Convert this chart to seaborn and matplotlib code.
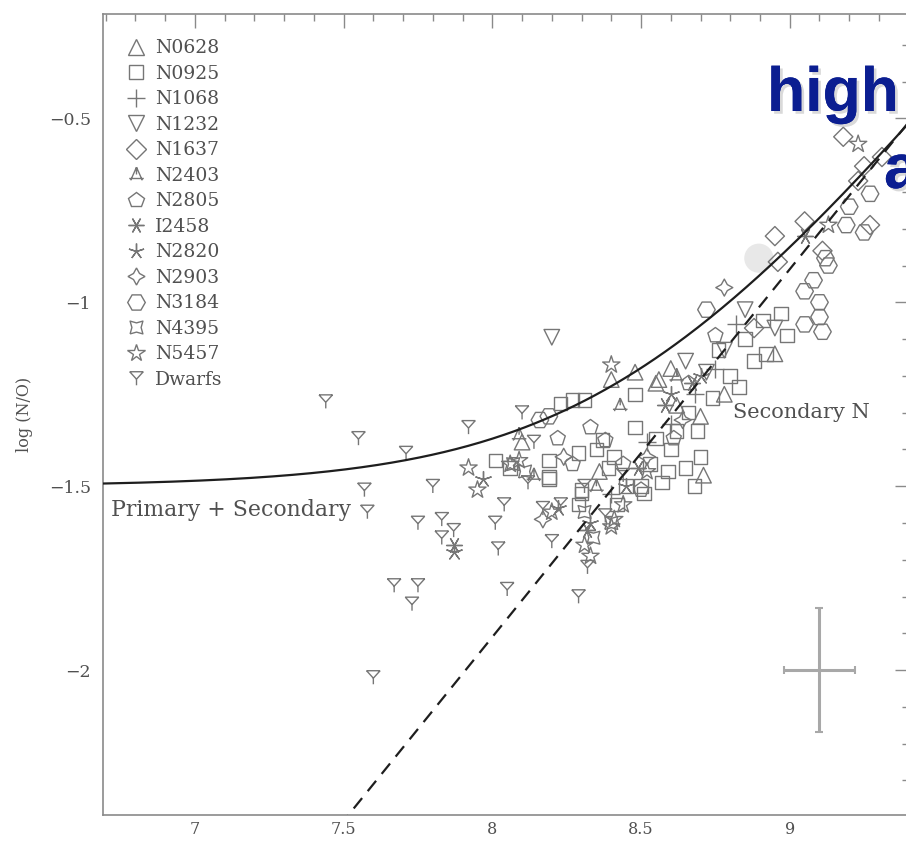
import numpy as np
import matplotlib
matplotlib.use("Agg")
import matplotlib.pyplot as plt
import matplotlib.patheffects as pe
from matplotlib.path import Path
from matplotlib.markers import MarkerStyle
from matplotlib.lines import Line2D
import seaborn as sns

sns.set_theme(style="white")
plt.rcParams["font.family"] = ["DejaVu Serif"]

# ---- data: 12+log(O/H) (x) and log(N/O) (y) per galaxy ----
n0628_x = [8.40, 8.56, 8.71, 8.95, 8.48, 8.55, 8.60, 8.10, 8.70, 8.78, 8.36, 8.62]
n0628_y = [-1.21, -1.21, -1.47, -1.14, -1.19, -1.22, -1.18, -1.38, -1.31, -1.25, -1.46, -1.28]

n0925_x = [8.23, 8.27, 8.31, 8.48, 8.48, 8.69, 8.62, 8.29, 8.19, 8.19, 8.35, 8.39, 8.30,
           8.29, 8.57, 8.68, 8.59, 8.65, 8.53, 8.50, 8.51, 8.83, 8.97, 8.99, 8.91, 8.76,
           8.74, 8.01, 8.06, 8.19, 8.30, 8.37, 8.41, 8.42, 8.45, 8.60, 8.70, 8.80, 8.85,
           8.88, 8.92, 8.66, 8.55]
n0925_y = [-1.275, -1.266, -1.266, -1.25, -1.34, -1.35, -1.35, -1.41, -1.43, -1.48, -1.40,
           -1.45, -1.51, -1.55, -1.49, -1.50, -1.46, -1.45, -1.44, -1.50, -1.52, -1.23,
           -1.03, -1.09, -1.05, -1.13, -1.26, -1.43, -1.45, -1.475, -1.52, -1.375, -1.42,
           -1.55, -1.50, -1.40, -1.42, -1.20, -1.10, -1.16, -1.14, -1.30, -1.37]

n1068_x = [8.75, 8.68, 8.82, 8.60, 8.40, 8.52]
n1068_y = [-1.18, -1.25, -1.06, -1.33, -1.52, -1.38]

n1232_x = [8.20, 8.85, 8.95, 8.65, 8.78, 8.72]
n1232_y = [-1.095, -1.02, -1.07, -1.16, -1.13, -1.19]

n1637_x = [9.18, 9.25, 9.23, 9.31, 9.05, 8.95, 8.96, 9.27, 9.11, 8.88]
n1637_y = [-0.55, -0.63, -0.67, -0.605, -0.78, -0.82, -0.89, -0.79, -0.86, -1.07]

n2403_x = [8.09, 8.43, 8.14, 8.62, 8.35]
n2403_y = [-1.36, -1.28, -1.47, -1.20, -1.50]

n2805_x = [8.33, 8.22, 8.61, 8.38, 8.50, 8.44, 8.27, 8.66, 8.75]
n2805_y = [-1.34, -1.37, -1.37, -1.375, -1.51, -1.44, -1.44, -1.22, -1.09]

i2458_x = [7.87, 8.58, 8.32, 9.05, 8.67, 8.49]
i2458_y = [-1.66, -1.28, -1.62, -0.82, -1.22, -1.45]

n2820_x = [7.97, 7.87, 8.60, 8.22, 8.45, 8.70, 8.33]
n2820_y = [-1.48, -1.68, -1.25, -1.56, -1.50, -1.20, -1.60]

n2903_x = [8.78, 8.24, 8.64, 8.17, 8.52]
n2903_y = [-0.96, -1.42, -1.32, -1.59, -1.42]

n3184_x = [9.27, 9.20, 9.19, 9.25, 9.12, 9.13, 9.05, 9.10, 9.08, 9.05, 9.11, 9.10, 8.72, 8.19, 8.16]
n3184_y = [-0.705, -0.74, -0.79, -0.81, -0.88, -0.90, -0.97, -1.00, -0.94, -1.06, -1.08,
           -1.04, -1.02, -1.31, -1.32]

n4395_x = [8.07, 8.11, 8.34, 8.40, 8.31]
n4395_y = [-1.44, -1.46, -1.64, -1.60, -1.57]

n5457_x = [8.40, 9.23, 9.13, 7.92, 7.95, 8.09, 8.44, 8.31, 8.41, 8.06, 8.40, 8.20, 8.52, 8.33]
n5457_y = [-1.17, -0.57, -0.79, -1.45, -1.51, -1.43, -1.55, -1.66, -1.59, -1.44, -1.61,
           -1.57, -1.46, -1.69]

dwarf_x = [7.44, 7.55, 7.71, 7.92, 8.10, 7.57, 7.80, 7.58, 7.75, 7.83, 7.87, 7.83, 8.04,
           8.01, 8.02, 7.67, 7.75, 7.73, 8.05, 8.14, 8.12, 8.29, 8.32, 8.20, 7.60, 8.23,
           8.31, 8.44, 8.38, 8.17]
dwarf_y = [-1.27, -1.37, -1.41, -1.34, -1.30, -1.51, -1.50, -1.57, -1.60, -1.59, -1.62,
           -1.64, -1.55, -1.60, -1.67, -1.77, -1.77, -1.82, -1.78, -1.38, -1.49, -1.80,
           -1.72, -1.65, -2.02, -1.55, -1.50, -1.47, -1.58, -1.56]

# model: primary plateau plus secondary production
primary_level = -1.5
secondary_offset_total = -9.96
secondary_offset_line = -9.91

# typical uncertainty
err_x, err_y = 9.10, -2.0
err_dx, err_dy = 0.12, 0.168

# ---- custom marker shapes ----
M, L = Path.MOVETO, Path.LINETO
tri_bar = Path([(-1, 1), (1, 1), (-1, 1), (0, -0.1), (1, 1), (0, -0.1), (0, -1)],
               [M, L, M, L, M, L, L])
a_shape = Path([(0, 1), (-0.8, -0.8), (0, 1), (0.8, -0.8), (-1, -0.55), (1, -0.55),
                (0, 1), (0, 0.0)],
               [M, L, M, L, M, L, M, L])
k = 0.72
pinched_sq = Path([(-1, -1), (0, -k), (1, -1), (k, 0), (1, 1), (0, k), (-1, 1), (-k, 0),
                   (-1, -1)], [M, L, L, L, L, L, L, L, L])

groups = [
    ("N0628", n0628_x, n0628_y, "^", 125),
    ("N0925", n0925_x, n0925_y, "s", 95),
    ("N1068", n1068_x, n1068_y, "+", 150),
    ("N1232", n1232_x, n1232_y, "v", 125),
    ("N1637", n1637_x, n1637_y, "D", 95),
    ("N2403", n2403_x, n2403_y, a_shape, 110),
    ("N2805", n2805_x, n2805_y, "p", 130),
    ("I2458", i2458_x, i2458_y, (6, 2, 90), 130),
    ("N2820", n2820_x, n2820_y, (5, 2, 0), 130),
    ("N2903", n2903_x, n2903_y, (4, 1, 0), 150),
    ("N3184", n3184_x, n3184_y, "H", 160),
    ("N4395", n4395_x, n4395_y, pinched_sq, 85),
    ("N5457", n5457_x, n5457_y, "*", 170),
    ("Dwarfs", dwarf_x, dwarf_y, tri_bar, 95),
]

grey = "#767676"
dark = "#1e1e1e"
txt = "#505050"

fig = plt.figure(figsize=(9.06, 8.42), dpi=100)
ax = fig.add_axes([0.114, 0.032, 0.889, 0.951])
ax.set_facecolor("white")

xlim = (6.692, 9.396)
ylim = (-2.394, -0.217)

# soft highlight spot
sns.scatterplot(x=[8.896], y=[-0.880], s=440, color="#e8e8e8", edgecolor="none",
                ax=ax, zorder=1, legend=False)

handles = []
for name, xs, ys, mk, size in groups:
    ms = MarkerStyle(mk)
    if ms.is_filled():
        sns.scatterplot(x=xs, y=ys, marker=mk, s=size, facecolor="none", edgecolor=grey,
                        linewidth=1.0, ax=ax, zorder=3, legend=False)
    else:
        sns.scatterplot(x=xs, y=ys, marker=mk, s=size, color=grey, linewidth=1.0,
                        ax=ax, zorder=3, legend=False)
    handles.append(Line2D([], [], linestyle="none", marker=mk, markersize=np.sqrt(size),
                          markerfacecolor="none", markeredgecolor=grey, color=grey,
                          markeredgewidth=1.0, label=name))

# model curves
xm = np.linspace(xlim[0], xlim[1], 400)
y_total = np.log10(10 ** primary_level + 10 ** (xm + secondary_offset_total))
y_sec = xm + secondary_offset_line
sns.lineplot(x=xm, y=y_total, color=dark, linewidth=1.6, ax=ax, zorder=4)
ax.plot(xm, y_sec, color=dark, linewidth=1.6, dashes=(6, 4), zorder=4)

# typical error bar
ax.errorbar([err_x], [err_y], xerr=[err_dx], yerr=[err_dy], fmt="none",
            ecolor="#a8a8a8", elinewidth=2.2, capsize=3, capthick=1.5, zorder=2)

ax.text(6.717, -1.565, "Primary + Secondary", fontsize=15.8, color=txt, va="center",
        ha="left", zorder=5)
ax.text(8.808, -1.30, "Secondary N", fontsize=15, color=txt, va="center", ha="left",
        zorder=5)

ax.set_xlim(*xlim)
ax.set_ylim(*ylim)
ax.set_xticks([7, 7.5, 8, 8.5, 9])
ax.set_xticklabels(["7", "7.5", "8", "8.5", "9"])
ax.set_yticks([-2, -1.5, -1, -0.5])
ax.set_yticklabels(["\u22122", "\u22121.5", "\u22121", "\u22120.5"])
ax.set_xticks(np.arange(6.7, 9.41, 0.1), minor=True)
ax.set_yticks(np.arange(-2.3, -0.2, 0.1), minor=True)
ax.tick_params(which="both", direction="in", top=True, right=True, colors="#8a8a8a",
               labelcolor=txt, width=1.0)
ax.tick_params(which="major", length=10)
ax.tick_params(which="minor", length=5)
ax.tick_params(axis="x", which="major", pad=4, labelsize=11.5)
ax.tick_params(axis="y", which="major", pad=9, labelsize=12.5)
for s in ax.spines.values():
    s.set_color("#8a8a8a")
    s.set_linewidth(1.2)
ax.set_xlabel("")
ax.set_ylabel("log (N/O)", fontsize=11.5, color=txt, labelpad=11)

leg = ax.legend(handles=handles, loc="upper left", bbox_to_anchor=(0.006, 0.985),
                frameon=False, fontsize=13.5, labelspacing=0.40, handletextpad=0.2,
                handlelength=1.6, borderaxespad=0.3)
for t in leg.get_texts():
    t.set_color(txt)

# overlaid caption, running off the right edge
shadow = [pe.withSimplePatchShadow(offset=(2, -2), shadow_rgbFace="#c0c0c0", alpha=0.6),
          pe.Normal()]
fig.text(767 / 906, 1 - 111 / 842, "high", fontsize=45, fontweight="bold",
         family="Liberation Sans", color="#0b1e91", va="baseline", ha="left",
         path_effects=shadow, zorder=10)
fig.text(884 / 906, 1 - 188 / 842, "a", fontsize=45, fontweight="bold",
         family="Liberation Sans", color="#0b1e91", va="baseline", ha="left",
         path_effects=shadow, zorder=10)

fig.savefig("out.png", dpi=100, facecolor="white")
